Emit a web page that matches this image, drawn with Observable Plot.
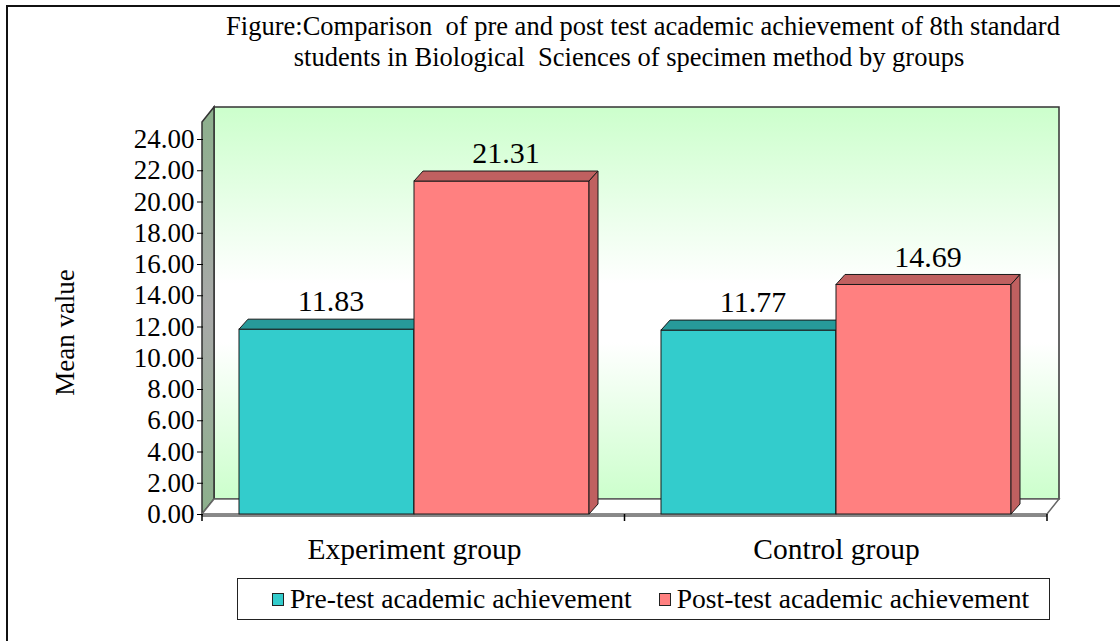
<!DOCTYPE html>
<html>
<head>
<meta charset="utf-8">
<script src="https://cdn.jsdelivr.net/npm/d3@7"></script>
<script src="https://cdn.jsdelivr.net/npm/@observablehq/plot@0.6"></script>
<style>
  body { margin: 0; background: #fff; font-family: "Liberation Serif", "Times New Roman", serif; }
  #page { position: relative; width: 1120px; height: 641px; overflow: hidden; background: #fff; }
  #frame { position: absolute; left: 6px; top: 5px; width: 1300px; height: 800px; border-left: 2px solid #111; border-top: 2px solid #111; }
  .tline { position: absolute; width: 1000px; text-align: center; font-size: 26.5px; line-height: 31px; white-space: pre; color: #000; font-family: "Liberation Serif", "Times New Roman", serif; }
  #chart { position: absolute; left: 0; top: 80px; }
  #legend { position: absolute; left: 237px; top: 578px; width: 813px; height: 42px; box-sizing: border-box; border: 1.5px solid #222; display: flex; align-items: center; font-size: 27.6px; color: #000; padding-left: 34px; font-family: "Liberation Serif", "Times New Roman", serif; }
  .item { display: flex; align-items: center; margin-right: 27px; white-space: nowrap; }
  .sw { width: 10px; height: 11px; border: 1.5px solid #222; margin-right: 6px; }
</style>
</head>
<body>
<div id="page">
  <div id="frame"></div>
  <div id="chart"></div>
  <div id="legend"></div>
</div>
<script>
// ---- data ----
const titleLines = [
  "Figure:Comparison  of pre and post test academic achievement of 8th standard",
  "students in Biological  Sciences of specimen method by groups"
];
const groups = ["Experiment group", "Control group"];
const series = ["Pre-test academic achievement", "Post-test academic achievement"];
const preValues = [11.83, 11.77];
const postValues = [21.31, 14.69];
const yTicks = [0, 2, 4, 6, 8, 10, 12, 14, 16, 18, 20, 22, 24];
const yLabel = "Mean value";
const colors = ["#33CCCC", "#FF8080"];
const topColors = ["#279A9A", "#C06060"];

const rows = groups.flatMap((g, i) => [
  {group: g, series: series[0], value: preValues[i]},
  {group: g, series: series[1], value: postValues[i]}
]);

const SERIF = '"Liberation Serif", "Times New Roman", serif';

// ---- title ----
const titleCenters = [643, 629];
const titleTops = [11, 42];
titleLines.forEach((t, i) => {
  const d = document.createElement("div");
  d.className = "tline";
  d.style.left = (titleCenters[i] - 500) + "px";
  d.style.top = titleTops[i] + "px";
  d.textContent = t;
  document.getElementById("page").appendChild(d);
});

// ---- plot ----
const W = 1120, H = 490, ML = 202, MR = 73, MT = 59, MB = 56;
const plot = Plot.plot({
  width: W, height: H,
  marginLeft: ML, marginRight: MR, marginTop: MT, marginBottom: MB,
  style: {fontFamily: SERIF, fontSize: "27px", color: "#000", background: "transparent", overflow: "visible"},
  facet: {data: rows, x: "group"},
  fx: {domain: groups, padding: 0, axis: "bottom", label: null, tickSize: 0, tickPadding: 24},
  x: {domain: series, paddingInner: 0, paddingOuter: 0.2, axis: null},
  y: {domain: [0, 24], ticks: yTicks, tickFormat: d => d.toFixed(2), tickSize: 6, tickPadding: 3, label: null},
  color: {domain: series, range: colors},
  marks: [
    Plot.barY(rows, {x: "series", y: "value", fill: "series", stroke: "#1a1a1a", strokeWidth: 1}),
    Plot.text(rows, {x: "series", y: "value", text: d => d.value.toFixed(2), dy: -28, dx: 4, fontSize: 30, fontFamily: SERIF, fill: "#000"})
  ]
});
document.getElementById("chart").appendChild(plot);

// ---- 3D decoration (walls, floor, bar faces) ----
const svg = d3.select(plot);
const y0 = H - MB, yT = MT - 17, xL = ML, xR = W - MR;
const wdx = 12, wdy = 15, bdx = 9, bdy = 10;

// bigger category labels
svg.selectAll('g[aria-label="fx-axis tick label"] text, g[aria-label="fx-axis"] text').attr("font-size", 29.5).style("font-size", "29.5px");

const walls = svg.insert("g", ":first-child");
const defs = svg.insert("defs", ":first-child");
const g1 = defs.append("linearGradient").attr("id", "backGrad").attr("x1", 0).attr("x2", 0).attr("y1", 0).attr("y2", 1);
g1.append("stop").attr("offset", 0).attr("stop-color", "#CCFFCC");
g1.append("stop").attr("offset", 0.45).attr("stop-color", "#FFFFFF");
g1.append("stop").attr("offset", 0.6).attr("stop-color", "#FFFFFF");
g1.append("stop").attr("offset", 1).attr("stop-color", "#CCFFCC");
const g2 = defs.append("linearGradient").attr("id", "sideGrad").attr("x1", 0).attr("x2", 0).attr("y1", 0).attr("y2", 1);
g2.append("stop").attr("offset", 0).attr("stop-color", "#8CB08C");
g2.append("stop").attr("offset", 0.5).attr("stop-color", "#A9A9A9");
g2.append("stop").attr("offset", 1).attr("stop-color", "#8CB08C");

walls.append("rect").attr("x", xL + wdx).attr("y", yT - wdy).attr("width", xR - xL).attr("height", y0 - yT)
  .attr("fill", "url(#backGrad)").attr("stroke", "#333").attr("stroke-width", 1.5);
walls.append("polygon").attr("points", [[xL, yT], [xL + wdx, yT - wdy], [xL + wdx, y0 - wdy], [xL, y0]].join(" "))
  .attr("fill", "url(#sideGrad)").attr("stroke", "#333").attr("stroke-width", 1.5);
walls.append("polygon").attr("points", [[xL, y0], [xL + wdx, y0 - wdy], [xR + wdx, y0 - wdy], [xR, y0]].join(" "))
  .attr("fill", "#fff").attr("stroke", "#666").attr("stroke-width", 1.5);
walls.append("line").attr("x1", xL).attr("x2", xR).attr("y1", y0 + 1.5).attr("y2", y0 + 1.5)
  .attr("stroke", "#888").attr("stroke-width", 3);

svg.selectAll('g[aria-label="bar"] rect').each(function(d, i) {
  const r = d3.select(this);
  const x = +r.attr("x"), y = +r.attr("y"), w = +r.attr("width"), h = +r.attr("height");
  const f = (r.attr("fill") || "").toUpperCase();
  let k = colors.indexOf(f);
  if (k < 0) k = i % 2;
  const parent = this.parentNode, next = this.nextSibling;
  const mk = pts => {
    const p = document.createElementNS("http://www.w3.org/2000/svg", "polygon");
    p.setAttribute("points", pts.join(" "));
    p.setAttribute("fill", topColors[k]);
    p.setAttribute("stroke", "#1a1a1a");
    p.setAttribute("stroke-width", 1);
    parent.insertBefore(p, next);
  };
  mk([[x, y], [x + bdx, y - bdy], [x + w + bdx, y - bdy], [x + w, y]]);
  mk([[x + w, y], [x + w + bdx, y - bdy], [x + w + bdx, y + h - bdy], [x + w, y + h]]);
});

// x-axis category boundary ticks
const ticks = svg.append("g").attr("stroke", "#000").attr("stroke-width", 1.5);
[xL, (xL + xR) / 2, xR].forEach(xx => {
  ticks.append("line").attr("x1", xx).attr("x2", xx).attr("y1", y0).attr("y2", y0 + 7);
});

// y-axis title
svg.append("text")
  .attr("transform", `translate(74,${(MT + y0) / 2 + 6}) rotate(-90)`)
  .attr("text-anchor", "middle")
  .attr("font-family", SERIF)
  .attr("font-size", 27)
  .attr("fill", "#000")
  .text(yLabel);

// ---- legend ----
const legend = d3.select("#legend");
series.forEach((s, i) => {
  const it = legend.append("div").attr("class", "item");
  it.append("div").attr("class", "sw").style("background", colors[i]);
  it.append("span").text(s);
});
</script>
</body>
</html>
